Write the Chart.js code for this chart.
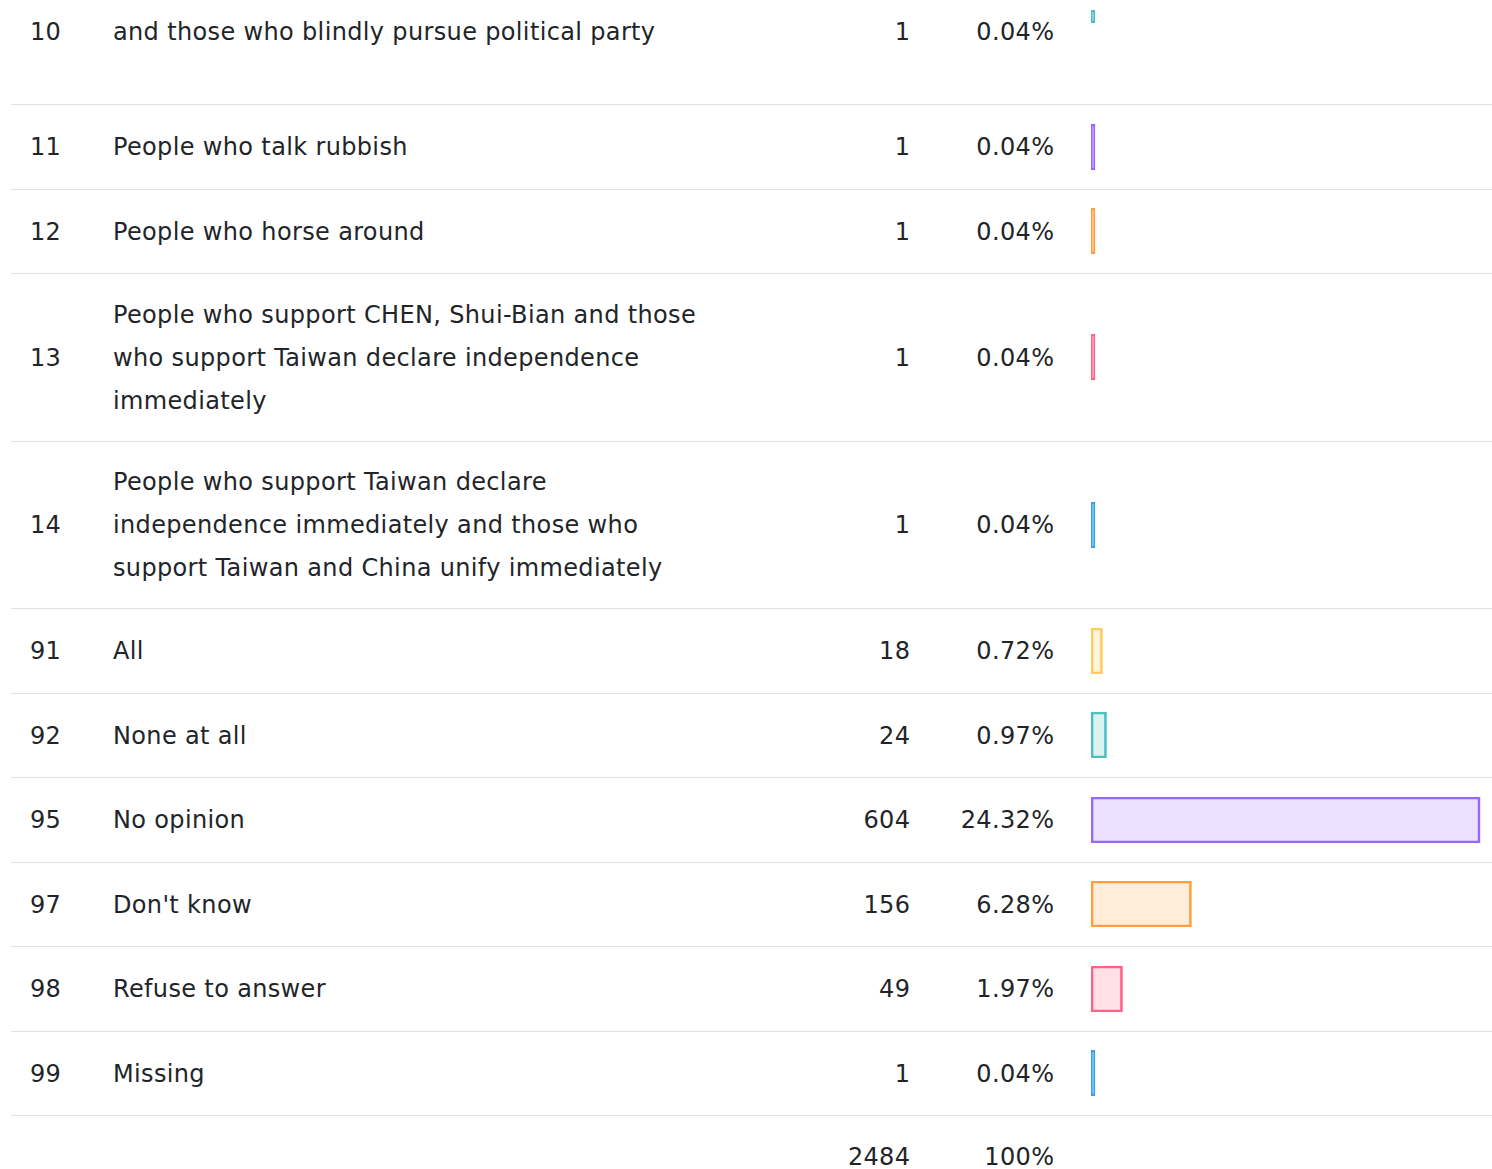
<!DOCTYPE html>
<html>
<head>
<meta charset="utf-8">
<script src="https://cdn.jsdelivr.net/npm/chart.js@4.4.1/dist/chart.umd.min.js"></script>
<style>
  body {
    margin: 0;
    background: #fff;
    font-family: 'DejaVu Sans', sans-serif;
    font-size: 24px;
    letter-spacing: 0.35px;
    color: #212529;
    overflow: hidden;
  }
  table {
    border-collapse: collapse;
    table-layout: fixed;
    margin-left: 11px;
    margin-top: -9px; /* 上の行はスクロールで隠れている */
    width: 1481px;
  }
  td {
    padding: 19.75px 18.65px 17.75px 19px;
    line-height: 43px;
    vertical-align: middle;
    border-bottom: 1px solid #dee2e6;
  }
  td.num { text-align: right; }
  td.bar { padding: 18.75px 0 18.75px 18px; }
  .bar-box { position: relative; width: 400px; height: 46px; }
  tr.cut td { vertical-align: top; height: 75.5px; }
  tr.cut td.bar { padding-top: 18.75px; }
  tr.cut .bar-box { height: 13px; }
  tr.total td { border-bottom: none; }
</style>
</head>
<body>
<table>
  <colgroup>
    <col style="width:83px">
    <col style="width:638px">
    <col style="width:197px">
    <col style="width:144px">
    <col style="width:419px">
  </colgroup>
  <tbody id="rows"></tbody>
</table>
<script>
// 表のデータ
const codes = ['10', '11', '12', '13', '14', '91', '92', '95', '97', '98', '99'];
const labels = [
  'and those who blindly pursue political party',
  'People who talk rubbish',
  'People who horse around',
  'People who support CHEN, Shui-Bian and those who support Taiwan declare independence immediately',
  'People who support Taiwan declare independence immediately and those who support Taiwan and China unify immediately',
  'All',
  'None at all',
  'No opinion',
  "Don't know",
  'Refuse to answer',
  'Missing'
];
const counts = [1, 1, 1, 1, 1, 18, 24, 604, 156, 49, 1];
const percents = [0.04, 0.04, 0.04, 0.04, 0.04, 0.72, 0.97, 24.32, 6.28, 1.97, 0.04];
const totalCount = 2484;
const totalPercent = '100%';

// 行ごとの色
const rowColors = [
  [75, 192, 192], [153, 102, 255], [255, 159, 64], [255, 99, 132], [54, 162, 235],
  [255, 205, 86], [75, 192, 192], [153, 102, 255], [255, 159, 64], [255, 99, 132], [54, 162, 235]
];

document.addEventListener('DOMContentLoaded', function () {
  const tbody = document.getElementById('rows');

  codes.forEach(function (code, i) {
    const tr = document.createElement('tr');
    if (i === 0) tr.className = 'cut'; // 一番上の行は途中から見えている
    tr.innerHTML =
      '<td>' + code + '</td>' +
      '<td>' + labels[i] + '</td>' +
      '<td class="num">' + counts[i] + '</td>' +
      '<td class="num">' + percents[i].toFixed(2) + '%</td>' +
      '<td class="bar"><div class="bar-box"><canvas></canvas></div></td>';
    tbody.appendChild(tr);

    const c = rowColors[i];
    const ctx = tr.querySelector('canvas').getContext('2d');
    new Chart(ctx, {
      type: 'bar',
      data: {
        labels: [labels[i]],
        datasets: [{
          data: [percents[i]],
          borderColor: 'rgb(' + c.join(',') + ')',
          backgroundColor: 'rgba(' + c.join(',') + ',0.2)',
          borderWidth: 2,
          borderSkipped: false,
          minBarLength: 4, // 小さい値でも線として見せる
          categoryPercentage: 1,
          barPercentage: 1
        }]
      },
      options: {
        indexAxis: 'y',
        responsive: true,
        maintainAspectRatio: false,
        animation: false,
        layout: { padding: 0 },
        scales: {
          x: { display: false, min: 0, max: 25 },
          y: { display: false }
        },
        plugins: {
          legend: { display: false },
          tooltip: { enabled: false }
        }
      }
    });
  });

  // 合計の行
  const totalRow = document.createElement('tr');
  totalRow.className = 'total';
  totalRow.innerHTML = '<td></td><td></td>' +
    '<td class="num">' + totalCount + '</td>' +
    '<td class="num">' + totalPercent + '</td><td class="bar"></td>';
  tbody.appendChild(totalRow);
});
</script>
</body>
</html>
